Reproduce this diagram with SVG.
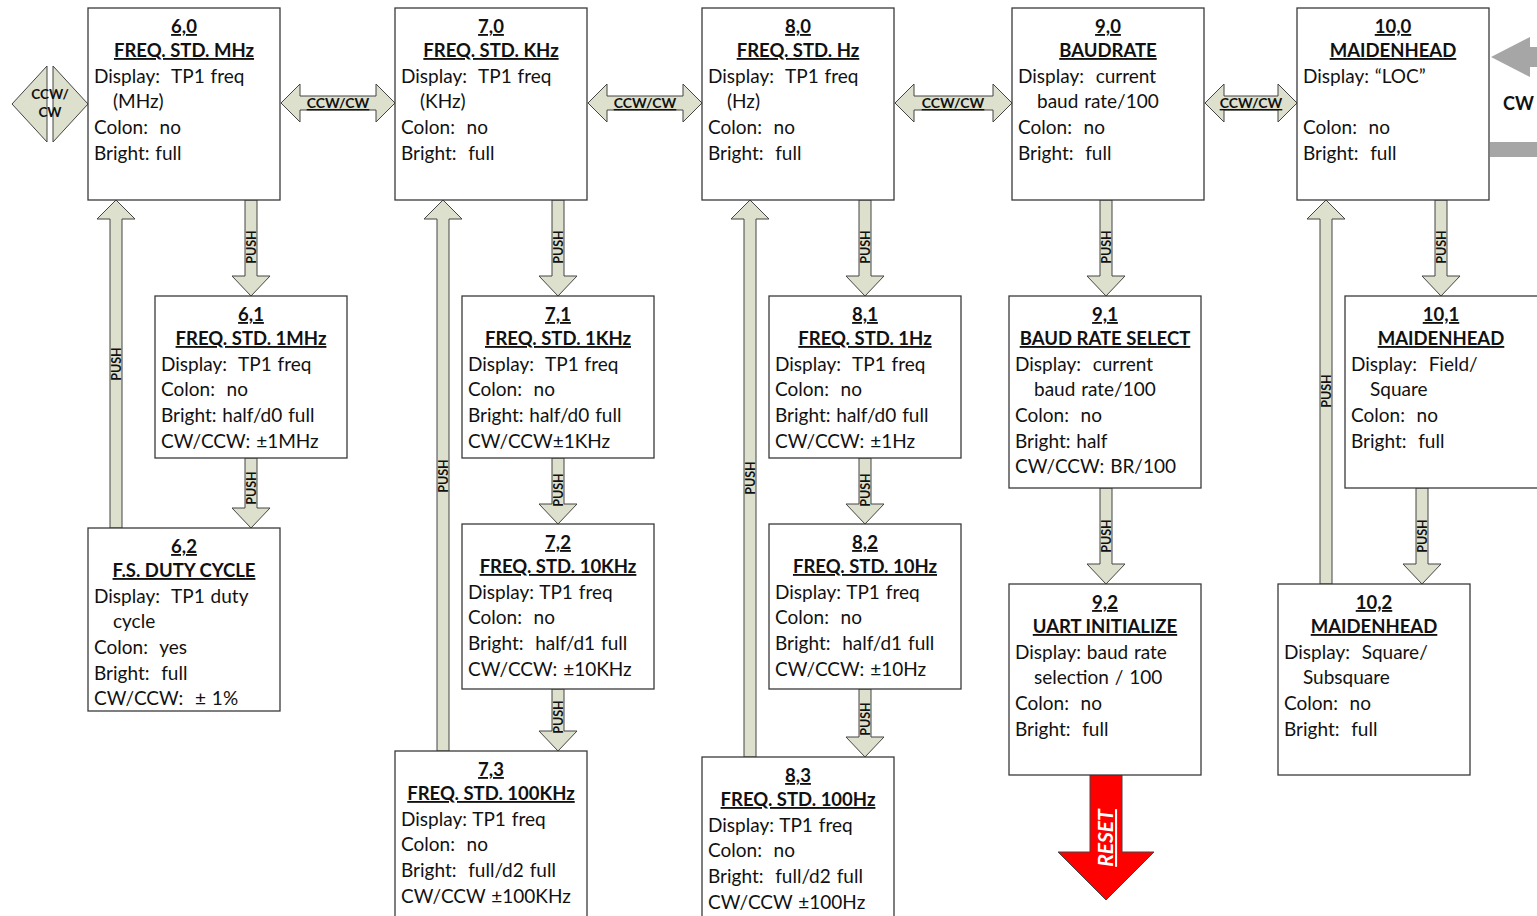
<svg xmlns="http://www.w3.org/2000/svg" width="1537" height="916" viewBox="0 0 1537 916">
<style>
.box{fill:#fff;stroke:#3a3a3a;stroke-width:1.3}
.t{font-family:Lato,"Liberation Sans",sans-serif;font-weight:bold;font-size:18.5px;text-anchor:middle;text-decoration:underline;fill:#111}
.b{font-family:Lato,"Liberation Sans",sans-serif;font-size:19px;word-spacing:1px;fill:#111;white-space:pre}
.ar{fill:#dde0cc;stroke:#444;stroke-width:1}
.pl{font-family:Lato,"Liberation Sans",sans-serif;font-weight:bold;font-size:12.5px;text-anchor:middle;fill:#111}
.hl{font-family:Lato,"Liberation Sans",sans-serif;font-weight:bold;font-size:14px;text-anchor:middle;fill:#111;text-decoration:underline}
</style>
<rect width="1537" height="916" fill="#fff"/>
<g id="connectors">
<!-- left diamond -->
<path class="ar" d="M12,104 L47,66 L47,142 Z"/>
<path class="ar" d="M53,66 L88,104 L53,142 Z"/>
<text class="pl" style="font-size:13.5px" x="50" y="99">CCW/</text>
<text class="pl" style="font-size:13.5px" x="50" y="117">CW</text>
<!-- horizontal double arrows -->
<path class="ar" d="M281,103 L300,84 L300,96 L376,96 L376,84 L395,103 L376,122 L376,110 L300,110 L300,122 Z"/>
<text class="hl" x="338" y="108">CCW/CW</text>
<path class="ar" d="M588,103 L607,84 L607,96 L683,96 L683,84 L702,103 L683,122 L683,110 L607,110 L607,122 Z"/>
<text class="hl" x="645" y="108">CCW/CW</text>
<path class="ar" d="M895,103 L914,84 L914,96 L993,96 L993,84 L1012,103 L993,122 L993,110 L914,110 L914,122 Z"/>
<text class="hl" x="953" y="108">CCW/CW</text>
<path class="ar" d="M1205,103 L1224,84 L1224,96 L1278,96 L1278,84 L1297,103 L1278,122 L1278,110 L1224,110 L1224,122 Z"/>
<text class="hl" x="1251" y="108">CCW/CW</text>
<!-- gray CW loop -->
<path d="M1491,57 L1530,37 L1530,47 L1537,47 L1537,67 L1530,67 L1530,77 Z" fill="#a6a6a6"/>
<rect x="1490" y="142" width="47" height="15" fill="#a6a6a6"/>
<text x="1503" y="110" style="font-family:Lato,'Liberation Sans',sans-serif;font-weight:bold;font-size:18px;fill:#111">CW</text>
<!-- column 6 -->
<path class="ar" d="M245,200 L257,200 L257,276 L270,276 L251,296 L232,276 L245,276 Z"/>
<text class="pl" transform="translate(256,247) rotate(-90)">PUSH</text>
<path class="ar" d="M245,458 L257,458 L257,508 L270,508 L251,528 L232,508 L245,508 Z"/>
<text class="pl" transform="translate(256,488) rotate(-90)">PUSH</text>
<path class="ar" d="M110,528 L122,528 L122,219 L135,219 L116,200 L97,219 L110,219 Z"/>
<text class="pl" transform="translate(121,364) rotate(-90)">PUSH</text>
<!-- column 7 -->
<path class="ar" d="M552,200 L564,200 L564,276 L577,276 L558,296 L539,276 L552,276 Z"/>
<text class="pl" transform="translate(563,247) rotate(-90)">PUSH</text>
<path class="ar" d="M552,458 L564,458 L564,504 L577,504 L558,524 L539,504 L552,504 Z"/>
<text class="pl" transform="translate(563,490) rotate(-90)">PUSH</text>
<path class="ar" d="M552,689 L564,689 L564,731 L577,731 L558,751 L539,731 L552,731 Z"/>
<text class="pl" transform="translate(563,717) rotate(-90)">PUSH</text>
<path class="ar" d="M437,751 L449,751 L449,219 L462,219 L443,200 L424,219 L437,219 Z"/>
<text class="pl" transform="translate(448,476) rotate(-90)">PUSH</text>
<!-- column 8 -->
<path class="ar" d="M859,200 L871,200 L871,276 L884,276 L865,296 L846,276 L859,276 Z"/>
<text class="pl" transform="translate(870,247) rotate(-90)">PUSH</text>
<path class="ar" d="M859,458 L871,458 L871,504 L884,504 L865,524 L846,504 L859,504 Z"/>
<text class="pl" transform="translate(870,490) rotate(-90)">PUSH</text>
<path class="ar" d="M859,689 L871,689 L871,737 L884,737 L865,757 L846,737 L859,737 Z"/>
<text class="pl" transform="translate(870,719) rotate(-90)">PUSH</text>
<path class="ar" d="M744,757 L756,757 L756,219 L769,219 L750,200 L731,219 L744,219 Z"/>
<text class="pl" transform="translate(755,478) rotate(-90)">PUSH</text>
<!-- column 9 -->
<path class="ar" d="M1100,200 L1112,200 L1112,276 L1125,276 L1106,296 L1087,276 L1100,276 Z"/>
<text class="pl" transform="translate(1111,247) rotate(-90)">PUSH</text>
<path class="ar" d="M1100,488 L1112,488 L1112,564 L1125,564 L1106,584 L1087,564 L1100,564 Z"/>
<text class="pl" transform="translate(1111,536) rotate(-90)">PUSH</text>
<path d="M1090,775 L1122,775 L1122,852 L1154,852 L1106,900 L1058,852 L1090,852 Z" fill="#ff0000" stroke="#444" stroke-width="1"/>
<text transform="translate(1113,838) rotate(-90)" style="font-family:Lato,'Liberation Sans',sans-serif;font-weight:bold;font-style:italic;font-size:21px;fill:#fff;text-anchor:middle;text-decoration:underline">RESET</text>
<!-- column 10 -->
<path class="ar" d="M1435,200 L1447,200 L1447,276 L1460,276 L1441,296 L1422,276 L1435,276 Z"/>
<text class="pl" transform="translate(1446,247) rotate(-90)">PUSH</text>
<path class="ar" d="M1416,488 L1428,488 L1428,564 L1441,564 L1422,584 L1403,564 L1416,564 Z"/>
<text class="pl" transform="translate(1427,536) rotate(-90)">PUSH</text>
<path class="ar" d="M1320,584 L1332,584 L1332,219 L1345,219 L1326,200 L1307,219 L1320,219 Z"/>
<text class="pl" transform="translate(1331,391) rotate(-90)">PUSH</text>
</g>

<g id="n6_0" transform="translate(88,8)">
<rect class="box" width="192" height="192"/>
<text class="t" x="96" y="25">6,0</text><text class="t" x="96" y="49">FREQ. STD. MHz</text>
<text class="b" x="6" y="75">Display:  TP1 freq</text><text class="b" x="25" y="100">(MHz)</text>
<text class="b" x="6" y="126">Colon:  no</text><text class="b" x="6" y="152">Bright: full</text>
</g>
<g id="n6_1" transform="translate(155,296)">
<rect class="box" width="192" height="162"/>
<text class="t" x="96" y="25">6,1</text><text class="t" x="96" y="49">FREQ. STD. 1MHz</text>
<text class="b" x="6" y="75">Display:  TP1 freq</text><text class="b" x="6" y="100">Colon:  no</text>
<text class="b" x="6" y="126">Bright: half/d0 full</text><text class="b" x="6" y="152">CW/CCW: ±1MHz</text>
</g>
<g id="n6_2" transform="translate(88,528)">
<rect class="box" width="192" height="183"/>
<text class="t" x="96" y="25">6,2</text><text class="t" x="96" y="49">F.S. DUTY CYCLE</text>
<text class="b" x="6" y="75">Display:  TP1 duty</text><text class="b" x="25" y="100">cycle</text>
<text class="b" x="6" y="126">Colon:  yes</text><text class="b" x="6" y="152">Bright:  full</text>
<text class="b" x="6" y="177">CW/CCW:  ± 1%</text>
</g>
<g id="n7_0" transform="translate(395,8)">
<rect class="box" width="192" height="192"/>
<text class="t" x="96" y="25">7,0</text><text class="t" x="96" y="49">FREQ. STD. KHz</text>
<text class="b" x="6" y="75">Display:  TP1 freq</text><text class="b" x="25" y="100">(KHz)</text>
<text class="b" x="6" y="126">Colon:  no</text><text class="b" x="6" y="152">Bright:  full</text>
</g>
<g id="n7_1" transform="translate(462,296)">
<rect class="box" width="192" height="162"/>
<text class="t" x="96" y="25">7,1</text><text class="t" x="96" y="49">FREQ. STD. 1KHz</text>
<text class="b" x="6" y="75">Display:  TP1 freq</text><text class="b" x="6" y="100">Colon:  no</text>
<text class="b" x="6" y="126">Bright: half/d0 full</text><text class="b" x="6" y="152">CW/CCW±1KHz</text>
</g>
<g id="n7_2" transform="translate(462,524)">
<rect class="box" width="192" height="165"/>
<text class="t" x="96" y="25">7,2</text><text class="t" x="96" y="49">FREQ. STD. 10KHz</text>
<text class="b" x="6" y="75">Display: TP1 freq</text><text class="b" x="6" y="100">Colon:  no</text>
<text class="b" x="6" y="126">Bright:  half/d1 full</text><text class="b" x="6" y="152">CW/CCW: ±10KHz</text>
</g>
<g id="n7_3" transform="translate(395,751)">
<rect class="box" width="192" height="172"/>
<text class="t" x="96" y="25">7,3</text><text class="t" x="96" y="49">FREQ. STD. 100KHz</text>
<text class="b" x="6" y="75">Display: TP1 freq</text><text class="b" x="6" y="100">Colon:  no</text>
<text class="b" x="6" y="126">Bright:  full/d2 full</text><text class="b" x="6" y="152">CW/CCW ±100KHz</text>
</g>
<g id="n8_0" transform="translate(702,8)">
<rect class="box" width="192" height="192"/>
<text class="t" x="96" y="25">8,0</text><text class="t" x="96" y="49">FREQ. STD. Hz</text>
<text class="b" x="6" y="75">Display:  TP1 freq</text><text class="b" x="25" y="100">(Hz)</text>
<text class="b" x="6" y="126">Colon:  no</text><text class="b" x="6" y="152">Bright:  full</text>
</g>
<g id="n8_1" transform="translate(769,296)">
<rect class="box" width="192" height="162"/>
<text class="t" x="96" y="25">8,1</text><text class="t" x="96" y="49">FREQ. STD. 1Hz</text>
<text class="b" x="6" y="75">Display:  TP1 freq</text><text class="b" x="6" y="100">Colon:  no</text>
<text class="b" x="6" y="126">Bright: half/d0 full</text><text class="b" x="6" y="152">CW/CCW: ±1Hz</text>
</g>
<g id="n8_2" transform="translate(769,524)">
<rect class="box" width="192" height="165"/>
<text class="t" x="96" y="25">8,2</text><text class="t" x="96" y="49">FREQ. STD. 10Hz</text>
<text class="b" x="6" y="75">Display: TP1 freq</text><text class="b" x="6" y="100">Colon:  no</text>
<text class="b" x="6" y="126">Bright:  half/d1 full</text><text class="b" x="6" y="152">CW/CCW: ±10Hz</text>
</g>
<g id="n8_3" transform="translate(702,757)">
<rect class="box" width="192" height="166"/>
<text class="t" x="96" y="25">8,3</text><text class="t" x="96" y="49">FREQ. STD. 100Hz</text>
<text class="b" x="6" y="75">Display: TP1 freq</text><text class="b" x="6" y="100">Colon:  no</text>
<text class="b" x="6" y="126">Bright:  full/d2 full</text><text class="b" x="6" y="152">CW/CCW ±100Hz</text>
</g>
<g id="n9_0" transform="translate(1012,8)">
<rect class="box" width="192" height="192"/>
<text class="t" x="96" y="25">9,0</text><text class="t" x="96" y="49">BAUDRATE</text>
<text class="b" x="6" y="75">Display:  current</text><text class="b" x="25" y="100">baud rate/100</text>
<text class="b" x="6" y="126">Colon:  no</text><text class="b" x="6" y="152">Bright:  full</text>
</g>
<g id="n9_1" transform="translate(1009,296)">
<rect class="box" width="192" height="192"/>
<text class="t" x="96" y="25">9,1</text><text class="t" x="96" y="49">BAUD RATE SELECT</text>
<text class="b" x="6" y="75">Display:  current</text><text class="b" x="25" y="100">baud rate/100</text>
<text class="b" x="6" y="126">Colon:  no</text><text class="b" x="6" y="152">Bright: half</text>
<text class="b" x="6" y="177">CW/CCW: BR/100</text>
</g>
<g id="n9_2" transform="translate(1009,584)">
<rect class="box" width="192" height="191"/>
<text class="t" x="96" y="25">9,2</text><text class="t" x="96" y="49">UART INITIALIZE</text>
<text class="b" x="6" y="75">Display: baud rate</text><text class="b" x="25" y="100">selection / 100</text>
<text class="b" x="6" y="126">Colon:  no</text><text class="b" x="6" y="152">Bright:  full</text>
</g>
<g id="n10_0" transform="translate(1297,8)">
<rect class="box" width="192" height="192"/>
<text class="t" x="96" y="25">10,0</text><text class="t" x="96" y="49">MAIDENHEAD</text>
<text class="b" x="6" y="75">Display: “LOC”</text>
<text class="b" x="6" y="126">Colon:  no</text><text class="b" x="6" y="152">Bright:  full</text>
</g>
<g id="n10_1" transform="translate(1345,296)">
<rect class="box" width="196" height="192"/>
<text class="t" x="96" y="25">10,1</text><text class="t" x="96" y="49">MAIDENHEAD</text>
<text class="b" x="6" y="75">Display:  Field/</text><text class="b" x="25" y="100">Square</text>
<text class="b" x="6" y="126">Colon:  no</text><text class="b" x="6" y="152">Bright:  full</text>
</g>
<g id="n10_2" transform="translate(1278,584)">
<rect class="box" width="192" height="191"/>
<text class="t" x="96" y="25">10,2</text><text class="t" x="96" y="49">MAIDENHEAD</text>
<text class="b" x="6" y="75">Display:  Square/</text><text class="b" x="25" y="100">Subsquare</text>
<text class="b" x="6" y="126">Colon:  no</text><text class="b" x="6" y="152">Bright:  full</text>
</g>
</svg>
